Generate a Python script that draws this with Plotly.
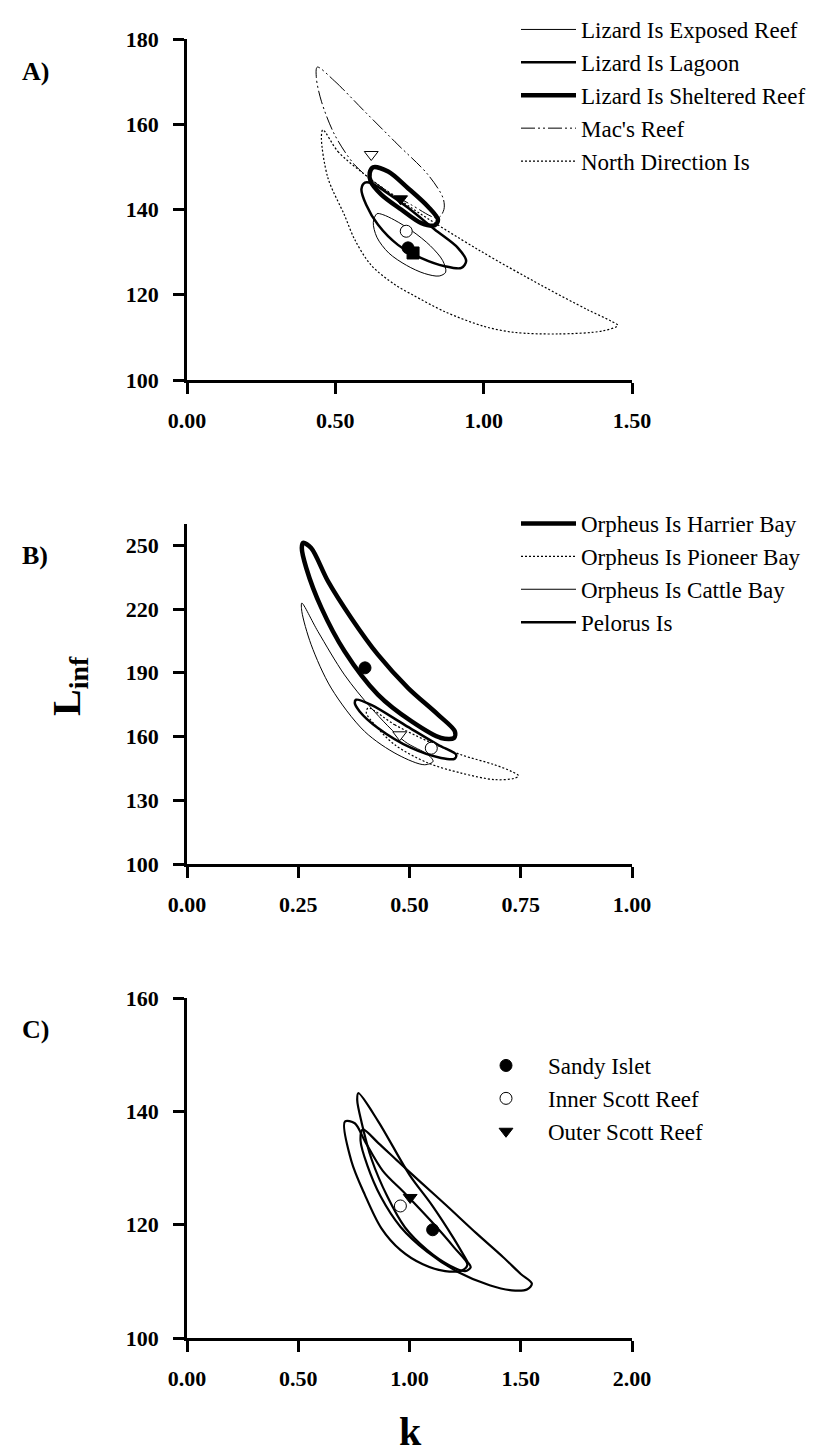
import plotly.graph_objects as go

FONT = "Liberation Serif"

# ---------------- Panel A : Lizard Island region ----------------
a_exposed_k = [0.640, 0.628, 0.640, 0.680, 0.740, 0.800, 0.850, 0.872, 0.862, 0.820, 0.760, 0.700, 0.660]
a_exposed_L = [139.0, 137.0, 133.5, 129.8, 126.9, 125.0, 124.4, 125.3, 128.0, 131.5, 134.9, 137.5, 138.8]

a_lagoon_k = [0.600, 0.588, 0.604, 0.644, 0.711, 0.790, 0.869, 0.925, 0.941, 0.913, 0.835, 0.745, 0.666, 0.621]
a_lagoon_L = [146.3, 144.8, 141.1, 136.4, 131.7, 128.6, 126.7, 126.3, 127.9, 131.0, 135.3, 140.4, 144.3, 146.2]

a_shelter_k = [0.627, 0.678, 0.745, 0.812, 0.846, 0.835, 0.790, 0.722, 0.655, 0.619, 0.616]
a_shelter_L = [149.9, 148.9, 145.0, 140.7, 137.6, 136.3, 136.8, 140.0, 143.5, 146.6, 148.6]

a_macs_k = [0.439, 0.498, 0.599, 0.711, 0.812, 0.863, 0.866, 0.846, 0.756, 0.644, 0.565, 0.498, 0.453, 0.436]
a_macs_L = [173.4, 170.1, 163.0, 155.2, 148.2, 142.7, 140.0, 138.0, 141.1, 145.8, 150.5, 157.5, 165.4, 170.9]

a_north_k = [0.458, 0.509, 0.599, 0.756, 0.981, 1.200, 1.350, 1.430, 1.452, 1.400, 1.250, 1.100,
             1.000, 0.870, 0.760, 0.700, 0.620, 0.565, 0.530, 0.475, 0.453]
a_north_L = [158.7, 153.6, 148.2, 140.4, 130.6, 122.0, 116.5, 113.8, 112.8, 111.5, 110.8, 111.2,
             112.6, 116.0, 120.0, 122.4, 127.0, 133.0, 138.8, 147.4, 156.8]

# point estimates (k, Linf)
a_est_k = [0.745, 0.739, 0.720, 0.621, 0.762]
a_est_L = [131.0, 134.9, 142.5, 152.9, 129.8]

# ---------------- Panel B : Orpheus / Pelorus ----------------
b_harrier_k = [0.261, 0.279, 0.317, 0.369, 0.429, 0.497, 0.564, 0.602, 0.600, 0.571, 0.504, 0.429, 0.354, 0.302, 0.268, 0.258]
b_harrier_L = [251.1, 248.7, 233.0, 215.8, 198.5, 182.8, 170.3, 162.4, 159.3, 159.3, 167.2, 179.7, 200.1, 220.5, 239.3, 248.7]

b_pioneer_k = [0.407, 0.467, 0.542, 0.616, 0.691, 0.730, 0.745, 0.735, 0.691, 0.616, 0.542, 0.467, 0.422, 0.403]
b_pioneer_L = [173.4, 165.5, 157.7, 151.4, 146.7, 143.5, 141.5, 140.3, 139.7, 142.8, 147.5, 156.1, 165.5, 171.1]

b_cattle_k = [0.258, 0.294, 0.354, 0.414, 0.489, 0.542, 0.553, 0.534, 0.474, 0.399, 0.324, 0.279, 0.258]
b_cattle_L = [222.8, 209.5, 189.0, 173.4, 157.7, 151.4, 148.3, 146.7, 151.4, 162.4, 182.8, 203.2, 218.9]

b_pelorus_k = [0.380, 0.414, 0.489, 0.564, 0.605, 0.601, 0.571, 0.504, 0.429, 0.388, 0.377]
b_pelorus_L = [177.3, 174.9, 165.5, 156.1, 151.4, 149.5, 149.9, 154.6, 164.0, 171.8, 175.8]

b_est_k = [0.400, 0.549, 0.478]
b_est_L = [192.3, 154.5, 160.8]

# ---------------- Panel C : Scott Reef region ----------------
c_sandy_k = [0.790, 0.860, 0.950, 1.050, 1.160, 1.300, 1.420, 1.500, 1.550, 1.530, 1.460, 1.360,
             1.220, 1.080, 0.960, 0.870, 0.810, 0.780]
c_sandy_L = [136.8, 134.4, 131.1, 127.5, 123.6, 118.5, 114.3, 111.3, 109.6, 108.6, 108.4, 109.3,
             111.6, 115.2, 119.6, 125.0, 130.5, 134.8]

c_inner_k = [0.710, 0.739, 0.799, 0.873, 0.960, 1.060, 1.160, 1.240, 1.260, 1.200, 1.100, 0.980, 0.880, 0.800, 0.754]
c_inner_L = [138.2, 131.2, 125.3, 119.4, 115.5, 113.0, 111.8, 112.0, 113.0, 116.0, 120.5, 125.5, 129.5, 134.7, 137.9]

c_outer_k = [0.770, 0.860, 1.000, 1.100, 1.200, 1.260, 1.275, 1.250, 1.180, 1.080, 0.980, 0.900, 0.830, 0.785, 0.765]
c_outer_L = [143.2, 138.2, 128.8, 123.5, 117.5, 113.5, 112.5, 111.8, 112.8, 115.5, 119.5, 125.0, 131.5, 138.0, 142.0]

c_names = ["Sandy Islet", "Inner Scott Reef", "Outer Scott Reef"]
c_est_k = [1.104, 0.959, 1.003]
c_est_L = [119.1, 123.3, 124.8]

fig = go.Figure()


def closed(v):
    return list(v) + [v[0]]


def contour(k, L, name, width, dash, xa, ya, legend, show=True):
    fig.add_trace(go.Scatter(
        x=closed(k), y=closed(L), mode="lines", name=name,
        line=dict(color="black", width=width, dash=dash, shape="spline", smoothing=0.9),
        xaxis=xa, yaxis=ya, legend=legend, showlegend=show, hoverinfo="skip"))


def point(k, L, symbol, fill, size, xa, ya, name="estimate", legend="legend", show=False):
    fig.add_trace(go.Scatter(
        x=[k], y=[L], mode="markers", name=name,
        marker=dict(symbol=symbol, color=fill, size=size, line=dict(color="black", width=1)),
        xaxis=xa, yaxis=ya, legend=legend, showlegend=show))


DASHDOT = "14px,3px,2px,3px,2px,3px"
DOT = "2px,2px"

# Panel A
contour(a_exposed_k, a_exposed_L, "Lizard Is Exposed Reef", 1.0, "solid", "x", "y", "legend")
contour(a_lagoon_k, a_lagoon_L, "Lizard Is Lagoon", 2.5, "solid", "x", "y", "legend")
contour(a_shelter_k, a_shelter_L, "Lizard Is Sheltered Reef", 4.5, "solid", "x", "y", "legend")
contour(a_macs_k, a_macs_L, "Mac's Reef", 1.0, DASHDOT, "x", "y", "legend")
contour(a_north_k, a_north_L, "North Direction Is", 1.2, DOT, "x", "y", "legend")
a_sym = ["circle", "circle", "triangle-down", "triangle-down", "square"]
a_fill = ["black", "white", "black", "white", "black"]
for i in range(len(a_est_k)):
    point(a_est_k[i], a_est_L[i], a_sym[i], a_fill[i], 12, "x", "y")

# Panel B
contour(b_harrier_k, b_harrier_L, "Orpheus Is Harrier Bay", 4.5, "solid", "x2", "y2", "legend2")
contour(b_pioneer_k, b_pioneer_L, "Orpheus Is Pioneer Bay", 1.2, DOT, "x2", "y2", "legend2")
contour(b_cattle_k, b_cattle_L, "Orpheus Is Cattle Bay", 1.0, "solid", "x2", "y2", "legend2")
contour(b_pelorus_k, b_pelorus_L, "Pelorus Is", 2.5, "solid", "x2", "y2", "legend2")
b_sym = ["circle", "circle", "triangle-down"]
b_fill = ["black", "white", "white"]
for i in range(len(b_est_k)):
    point(b_est_k[i], b_est_L[i], b_sym[i], b_fill[i], 12, "x2", "y2")

# Panel C
contour(c_sandy_k, c_sandy_L, "Sandy Islet", 2.2, "solid", "x3", "y3", "legend3", show=False)
contour(c_inner_k, c_inner_L, "Inner Scott Reef", 2.2, "solid", "x3", "y3", "legend3", show=False)
contour(c_outer_k, c_outer_L, "Outer Scott Reef", 2.2, "solid", "x3", "y3", "legend3", show=False)
c_sym = ["circle", "circle", "triangle-down"]
c_fill = ["black", "white", "black"]
for i in range(len(c_est_k)):
    point(c_est_k[i], c_est_L[i], c_sym[i], c_fill[i], 12, "x3", "y3", name=c_names[i], legend="legend3", show=True)

W, H = 832, 1452
XDOM = [179 / W, 624 / W]


def ydom(top_px, bot_px):
    return [1 - bot_px / H, 1 - top_px / H]


tickfont = dict(family=FONT, size=22, color="black", weight="bold")
axis_common = dict(showline=True, linecolor="black", linewidth=2.5, ticks="outside", ticklen=11,
                   tickwidth=2.5, tickcolor="black", showgrid=False, zeroline=False,
                   tickfont=tickfont)

legfont = dict(family=FONT, size=23, color="black")
fig.update_layout(
    width=W, height=H, margin=dict(l=0, r=0, t=0, b=0, autoexpand=False),
    paper_bgcolor="white", plot_bgcolor="white",
    font=dict(family=FONT, color="black"),
    xaxis=dict(domain=XDOM, range=[0, 1.5], tick0=0, dtick=0.5, tickformat=".2f", anchor="y",
               ticklabelstandoff=8, **axis_common),
    yaxis=dict(domain=ydom(31, 372), range=[100, 180], tick0=100, dtick=20, anchor="x",
               ticklabelstandoff=10, **axis_common),
    xaxis2=dict(domain=XDOM, range=[0, 1.0], tick0=0, dtick=0.25, tickformat=".2f", anchor="y2",
                ticklabelstandoff=8, **axis_common),
    yaxis2=dict(domain=ydom(516, 856), range=[100, 260], tick0=100, dtick=30, anchor="x2",
                ticklabelstandoff=10, **axis_common),
    xaxis3=dict(domain=XDOM, range=[0, 2.0], tick0=0, dtick=0.5, tickformat=".2f", anchor="y3",
                ticklabelstandoff=8, **axis_common),
    yaxis3=dict(domain=ydom(990, 1330), range=[100, 160], tick0=100, dtick=20, anchor="x3",
                ticklabelstandoff=10, **axis_common),
    legend=dict(x=508 / W, y=1.0, xanchor="left", yanchor="top", font=legfont,
                bgcolor="rgba(0,0,0,0)", itemwidth=55, tracegroupgap=0),
    legend2=dict(x=508 / W, y=1 - 494 / H, xanchor="left", yanchor="top", font=legfont,
                 bgcolor="rgba(0,0,0,0)", itemwidth=55, tracegroupgap=0),
    legend3=dict(x=456 / W, y=1 - 1036 / H, xanchor="left", yanchor="top", font=legfont,
                 bgcolor="rgba(0,0,0,0)", itemwidth=74, tracegroupgap=0),
)

ann = [
    dict(text="<b>A)</b>", x=27 / W, y=1 - 63 / H, size=26),
    dict(text="<b>B)</b>", x=27 / W, y=1 - 548 / H, size=26),
    dict(text="<b>C)</b>", x=27 / W, y=1 - 1022 / H, size=26),
]
for a in ann:
    fig.add_annotation(text=a["text"], x=a["x"], y=a["y"], xref="paper", yref="paper",
                       showarrow=False, xanchor="center", yanchor="middle",
                       font=dict(family=FONT, size=a["size"], color="black"))
fig.add_annotation(text="<b>k</b>", x=402 / W, y=4 / H, xref="paper", yref="paper",
                   showarrow=False, xanchor="center", yanchor="bottom",
                   font=dict(family=FONT, size=40, color="black"))
fig.add_annotation(text="<b>L<sub>inf</sub></b>", x=61 / W, y=1 - 678 / H, xref="paper", yref="paper",
                   showarrow=False, xanchor="center", yanchor="middle", textangle=-90,
                   font=dict(family=FONT, size=40, color="black"))

fig.write_html("out.html")
